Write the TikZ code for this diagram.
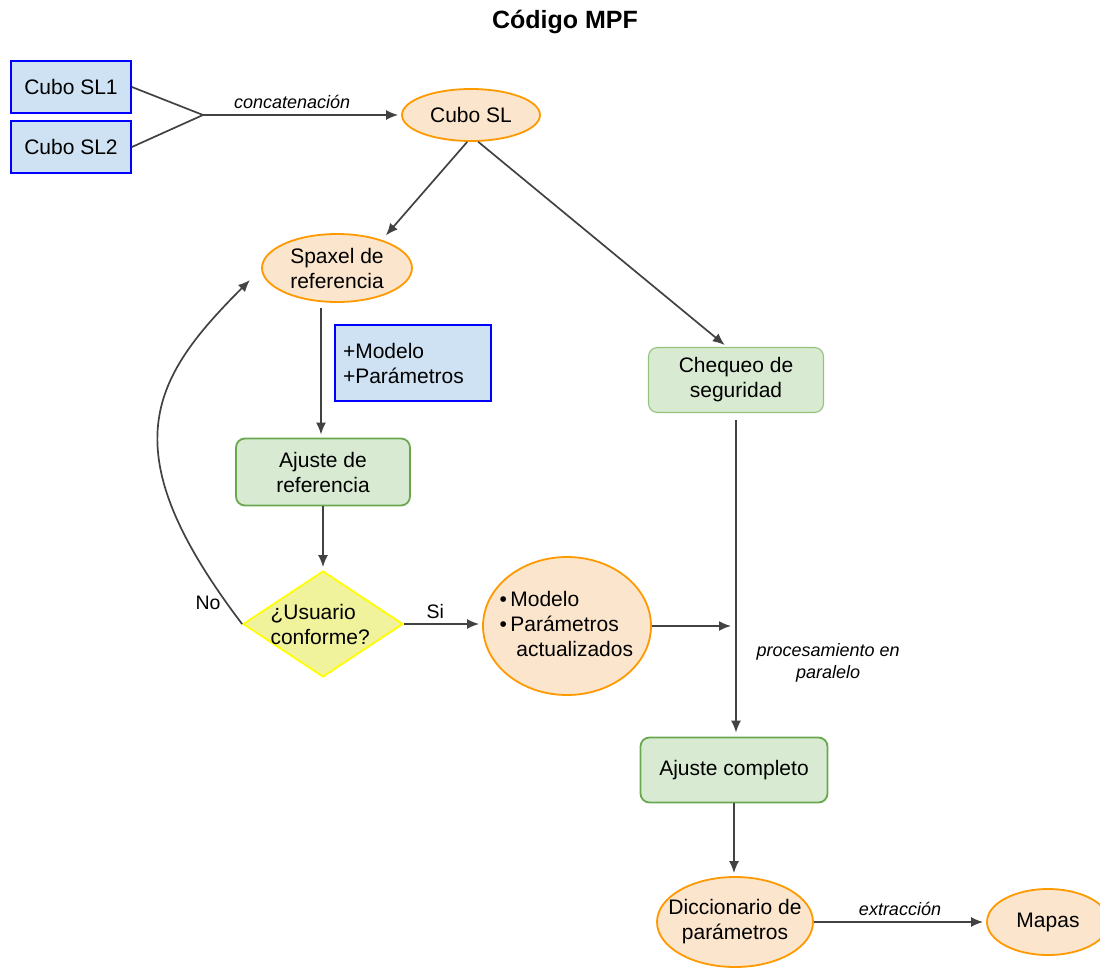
\documentclass[tikz,border=0pt]{standalone}
\usepackage{fontspec}
\setmainfont{Liberation Sans}
\usetikzlibrary{shapes.geometric,arrows.meta}
\definecolor{bluefill}{HTML}{CFE2F3}
\definecolor{blueline}{HTML}{0000FF}
\definecolor{orfill}{HTML}{FCE5CD}
\definecolor{orline}{HTML}{FF9900}
\definecolor{grfill}{HTML}{D9EAD3}
\definecolor{grline}{HTML}{6AA84F}
\definecolor{grlight}{HTML}{93C47D}
\definecolor{yefill}{HTML}{F0F29C}
\definecolor{yeline}{HTML}{FFFF00}
\definecolor{arrcol}{HTML}{424242}
\tikzset{
  x=1pt, y=-1pt,
  maintext/.style={font=\fontsize{21}{25}\selectfont, align=center},
  bluebox/.style={maintext, draw=blueline, fill=bluefill, line width=1.8pt, inner sep=0pt},
  orell/.style={maintext, ellipse, draw=orline, fill=orfill, line width=1.8pt, inner sep=-30pt},
  grbox/.style={maintext, rectangle, rounded corners=9pt, draw=grline, fill=grfill, line width=1.8pt, inner sep=0pt},
  ydiam/.style={maintext, diamond, draw=yeline, fill=yefill, line width=1.8pt, inner sep=0pt},
  lbl/.style={font=\fontsize{18}{22}\selectfont\itshape, align=center},
  plainlbl/.style={font=\fontsize{19.5}{23}\selectfont},
  conn/.style={draw=arrcol, line width=1.7pt},
  arr/.style={conn, -{Latex[length=12pt,width=10pt]}, shorten >=3pt},
}
\begin{document}
\begin{tikzpicture}
\useasboundingbox (0,0) rectangle (1100,969);
% title
\node[font=\fontsize{25}{29}\selectfont\bfseries] (title) at (565,22) {Código MPF};
% nodes
\node[bluebox, minimum width=120pt, minimum height=52pt] (sl1) at (71,87) {Cubo SL1};
\node[bluebox, minimum width=120pt, minimum height=52pt] (sl2) at (71,147) {Cubo SL2};
\coordinate (j) at (203,115);
\node[orell, minimum width=138pt, minimum height=52pt] (cubo) at (471,115) {Cubo SL};
\node[orell, minimum width=150pt, minimum height=68pt] (spaxel) at (337,268) {Spaxel de\\referencia};
\node[bluebox, minimum width=156pt, minimum height=76pt, align=left, text width=140pt] (modpar) at (413,363) {+Modelo\\+Parámetros};
\node[grbox, minimum width=174pt, minimum height=67pt] (ajref) at (323,472) {Ajuste de\\referencia};
\node[grbox, draw=grlight, line width=1.1pt, minimum width=175pt, minimum height=65pt] (cheq) at (736,380) {Chequeo de\\seguridad};
\node[ydiam, minimum width=160pt, minimum height=106pt] (diam) at (323,624) {};
\node[maintext, align=left, anchor=west] (diamtxt) at (267,624) {¿Usuario\\conforme?};
\node[orell, minimum width=168pt, minimum height=138pt] (modelo) at (567,626) {};
\node[maintext, align=left, anchor=west] (modtxt) at (496,624) {\textbullet\,Modelo\\\textbullet\,Parámetros\\\hspace*{0.8em}actualizados};
\node[grbox, minimum width=187pt, minimum height=65pt] (ajcomp) at (734,770) {Ajuste completo};
\node[orell, minimum width=156pt, minimum height=90pt] (dicc) at (735,922) {Diccionario de\\parámetros};
\node[orell, minimum width=122pt, minimum height=66pt] (mapas) at (1048,922) {Mapas};
% connectors
\draw[conn] (sl1.east) -- (j);
\draw[conn] (sl2.east) -- (j);
\draw[arr] (j) -- node[lbl, above=2pt, pos=0.45] {concatenación} (j -| cubo.west);
\draw[arr, shorten >=6pt] (cubo.-98) -- (spaxel.32);
\draw[arr] (cubo.-75) -- ([xshift=-9pt]cheq.north);
\draw[arr, shorten <=5pt] (spaxel.south -| 321,0) -- (ajref.north -| 321,0);
\draw[arr] (ajref.south) -- (diam.north);
\draw[arr] (diam.east) -- node[plainlbl, above=1pt, pos=0.4] {Si} (diam.east -| modelo.west);
\coordinate (vline) at (736,626);
\draw[arr, shorten >=5pt] (modelo.east) -- (vline);
\draw[arr, shorten <=7pt, shorten >=4pt] (cheq.south) -- (cheq.south |- ajcomp.north);
\node[lbl, anchor=west] (par) at (753,663) {procesamiento en\\paralelo};
\draw[arr] (ajcomp.south) -- (ajcomp.south |- dicc.north);
\draw[arr] (dicc.east) -- node[lbl, above=2pt] {extracción} (mapas.west);
\coordinate (noend) at (250,280);
\draw[arr, shorten >=0pt] (diam.west) .. controls (110,450) and (150,380) .. (noend);
\node[plainlbl] (no) at (208,603) {No};
\end{tikzpicture}
\end{document}
